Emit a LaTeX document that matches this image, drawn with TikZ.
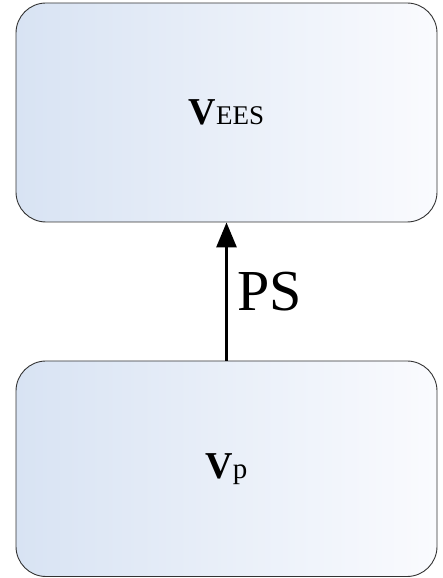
\documentclass[tikz,border=0pt]{standalone}
\usepackage{fontspec}
\setmainfont{Liberation Serif}
\usetikzlibrary{arrows.meta}
\definecolor{boxleft}{RGB}{216,227,243}
\definecolor{boxright}{RGB}{250,251,254}
\begin{document}
\begin{tikzpicture}[x=1pt, y=1pt,
  block/.style={draw=black!80, line width=0.9pt, rounded corners=30pt,
    left color=boxleft, right color=boxright, minimum width=421pt, inner sep=0pt}]
  \useasboundingbox (0, 0) rectangle (443, 578);
  \node[block, minimum height=219pt] (vees) at (226.5, 465.5)
    {\fontsize{38}{40}\selectfont\textbf{V}\fontsize{27}{30}\selectfont EES};
  \node[block, minimum height=215.5pt] (vp) at (226.5, 109.25)
    {\fontsize{38}{40}\selectfont\textbf{V}\fontsize{29}{30}\selectfont p};
  \draw[-{Triangle[length=25pt, width=20pt]}, line width=3pt] (vp.north)
    -- node[right=9pt, inner sep=0pt] (ps) {\fontsize{58}{60}\selectfont PS} (vees.south);
\end{tikzpicture}
\end{document}
